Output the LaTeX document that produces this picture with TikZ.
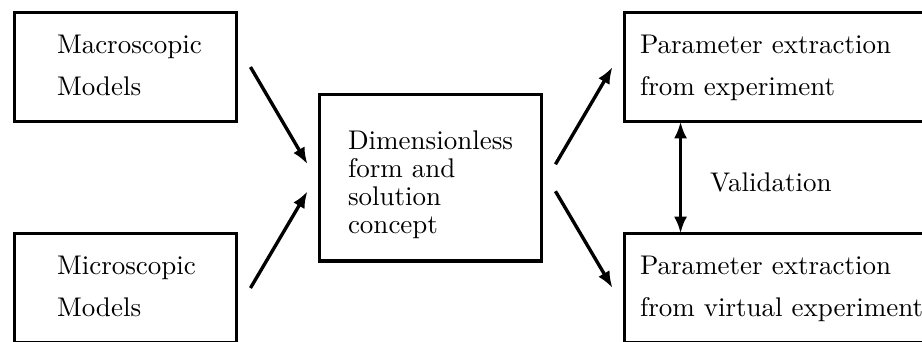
\documentclass[tikz,border=0pt]{standalone}
\usetikzlibrary{arrows.meta,calc}
\begin{document}
\begin{tikzpicture}[x=0.37037pt,y=-0.37037pt,
  box/.style={draw,line width=1.3pt,rectangle,inner sep=0pt,outer sep=0pt,minimum width=#1},
  lbl/.style={anchor=base west,inner sep=0pt,outer sep=0pt,align=left,font=\fontsize{10}{15.55}\selectfont},
  arr/.style={line width=1.25pt,-{Latex[length=6.2pt,width=4.8pt]}},
  darr/.style={line width=1.25pt,{Latex[length=6.2pt,width=4.8pt]}-{Latex[length=6.2pt,width=4.8pt]}}]
\clip (0,0) rectangle (922,341);
% boxes
\node[box=82.2pt,minimum height=40.4pt] (ma) at (125.5,67) {};
\node[box=82.2pt,minimum height=40.4pt] (mi) at (125.5,288) {};
\node[box=82.2pt,minimum height=61.7pt] (cb) at (430.5,177.75) {};
\node[box=118.5pt,minimum height=40.4pt] (pe) at (784.5,67) {};
\node[box=118.5pt,minimum height=40.4pt] (pv) at (784.5,288) {};
% texts (anchored at the baseline of the last line)
\node[lbl] (mat) at (57,95) {Macroscopic\\Models};
\node[lbl] (mit) at (57,316) {Microscopic\\Models};
\node[lbl,font=\fontsize{10}{10.26}\selectfont] (cbt) at (348,233) {Dimensionless\\form and\\solution\\concept};
\node[lbl] (pet) at (640,95) {Parameter extraction\\from experiment};
\node[lbl] (pvt) at (640,316) {Parameter extraction\\from virtual experiment};
\node[lbl] (val) at (710,191.7) {Validation};
% connectors
\draw[arr] ($(ma.east)+(14,0)$) -- ($(cb.west)+(-12,-13.5)$);
\draw[arr] ($(mi.east)+(14,0)$) -- ($(cb.west)+(-12,13.5)$);
\draw[arr] ($(cb.east)+(14,-13.5)$) -- ($(pe.west)+(-12,0)$);
\draw[arr] ($(cb.east)+(14,13.5)$) -- ($(pv.west)+(-12,0)$);
\draw[darr] ($(pe.south west)+(56,0)$) -- ($(pv.north west)+(56,0)$);
\end{tikzpicture}
\end{document}
